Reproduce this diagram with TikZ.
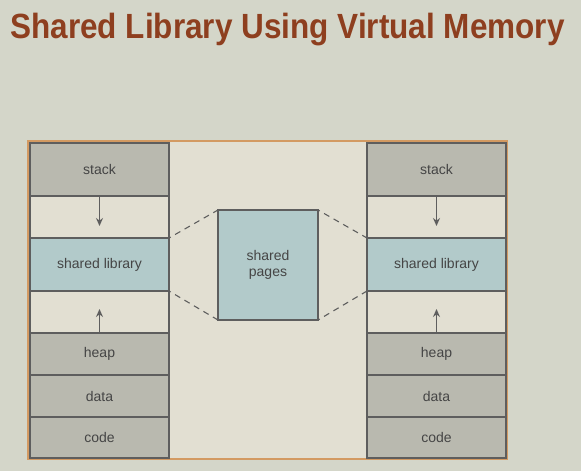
\documentclass[tikz,border=0pt]{standalone}
\usepackage{fontspec}
\setmainfont{Liberation Sans}
\usepackage{graphicx}
\usetikzlibrary{arrows.meta, positioning}
\definecolor{bgcol}{HTML}{D4D6C9}
\definecolor{emptycol}{HTML}{E2DFD2}
\definecolor{grycol}{HTML}{B9B9AF}
\definecolor{blucol}{HTML}{B2CACA}
\definecolor{linecol}{HTML}{5E5E5E}
\definecolor{txtcol}{HTML}{454545}
\definecolor{orgcol}{HTML}{D39A62}
\definecolor{ttlcol}{HTML}{8E3F1F}

\begin{document}
\begin{tikzpicture}[>={Stealth[length=8pt,width=7pt]}, x=1pt, y=-1pt,
    seg/.style={draw=linecol, line width=1.2pt, fill=emptycol, minimum width=139pt,
        outer sep=0pt, inner sep=0pt, font=\fontsize{14}{16}\selectfont, text=txtcol},
    fixed/.style={seg, fill=grycol},
    lib/.style={seg, fill=blucol},
    growarrow/.style={->, linecol, line width=1.3pt},
    link/.style={linecol, line width=1.1pt, dash pattern=on 6pt off 5pt, dash phase=4pt}]
    % fond et cadre
    \fill[bgcol] (0,0) rectangle (581,471);
    \draw[orgcol, line width=1.6pt, fill=emptycol] (28,141) rectangle (507,459);
    \node[anchor=base, text=ttlcol, font=\bfseries\fontsize{35}{40}\selectfont] (title) at (287.5,38.5)
        {\scalebox{0.9}[1]{Shared Library Using Virtual Memory}};

    % espace d'adressage gauche
    \node[fixed, minimum height=53pt, anchor=north west] (stackL) at (30,143) {stack};
    \node[seg, minimum height=42pt, below=0pt of stackL] (gapAL) {};
    \node[lib, minimum height=53pt, below=0pt of gapAL] (libL) {shared library};
    \node[seg, minimum height=42pt, below=0pt of libL] (gapBL) {};
    \node[fixed, minimum height=42pt, below=0pt of gapBL] (heapL) {heap};
    \node[fixed, minimum height=42pt, below=0pt of heapL] (dataL) {data};
    \node[fixed, minimum height=41pt, below=0pt of dataL] (codeL) {code};

    % espace d'adressage droit
    \node[fixed, minimum height=53pt, anchor=north west] (stackR) at (367,143) {stack};
    \node[seg, minimum height=42pt, below=0pt of stackR] (gapAR) {};
    \node[lib, minimum height=53pt, below=0pt of gapAR] (libR) {shared library};
    \node[seg, minimum height=42pt, below=0pt of libR] (gapBR) {};
    \node[fixed, minimum height=42pt, below=0pt of gapBR] (heapR) {heap};
    \node[fixed, minimum height=42pt, below=0pt of heapR] (dataR) {data};
    \node[fixed, minimum height=41pt, below=0pt of dataR] (codeR) {code};

    % pages partagees
    \node[lib, minimum width=100pt, minimum height=110pt, align=center] (pages) at (268,265) {shared\\pages};

    % fleches de croissance
    \coordinate[below=30pt of stackL.south] (tipAL);
    \coordinate[above=24pt of heapL.north] (tipBL);
    \coordinate[below=30pt of stackR.south] (tipAR);
    \coordinate[above=24pt of heapR.north] (tipBR);
    \draw[growarrow] (stackL) -- (tipAL);
    \draw[growarrow] (heapL) -- (tipBL);
    \draw[growarrow] (stackR) -- (tipAR);
    \draw[growarrow] (heapR) -- (tipBR);

    % liens en pointilles
    \draw[link] (libL.north east) -- (pages.north west);
    \draw[link] (libL.south east) -- (pages.south west);
    \draw[link] (pages.north east) -- (libR.north west);
    \draw[link] (pages.south east) -- (libR.south west);
\end{tikzpicture}
\end{document}
